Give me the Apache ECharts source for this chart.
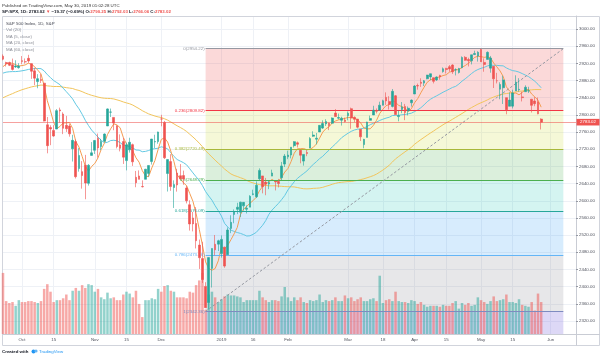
<!DOCTYPE html>
<html><head><meta charset="utf-8">
<script src="https://cdn.jsdelivr.net/npm/echarts@6/dist/echarts.min.js"></script>
<style>html,body{margin:0;padding:0;background:#fff}#c{width:602px;height:359px}</style>
</head><body><div id="c"></div>
<script>
const dates = [
'2018-09-21','2018-09-24','2018-09-25','2018-09-26','2018-09-27','2018-09-28',
'2018-10-01','2018-10-02','2018-10-03','2018-10-04','2018-10-05','2018-10-08','2018-10-09','2018-10-10','2018-10-11','2018-10-12','2018-10-15','2018-10-16','2018-10-17','2018-10-18','2018-10-19','2018-10-22','2018-10-23','2018-10-24','2018-10-25','2018-10-26','2018-10-29','2018-10-30','2018-10-31',
'2018-11-01','2018-11-02','2018-11-05','2018-11-06','2018-11-07','2018-11-08','2018-11-09','2018-11-12','2018-11-13','2018-11-14','2018-11-15','2018-11-16','2018-11-19','2018-11-20','2018-11-21','2018-11-23','2018-11-26','2018-11-27','2018-11-28','2018-11-29','2018-11-30',
'2018-12-03','2018-12-04','2018-12-06','2018-12-07','2018-12-10','2018-12-11','2018-12-12','2018-12-13','2018-12-14','2018-12-17','2018-12-18','2018-12-19','2018-12-20','2018-12-21','2018-12-24','2018-12-26','2018-12-27','2018-12-28','2018-12-31',
'2019-01-02','2019-01-03','2019-01-04','2019-01-07','2019-01-08','2019-01-09','2019-01-10','2019-01-11','2019-01-14','2019-01-15','2019-01-16','2019-01-17','2019-01-18','2019-01-22','2019-01-23','2019-01-24','2019-01-25','2019-01-28','2019-01-29','2019-01-30','2019-01-31',
'2019-02-01','2019-02-04','2019-02-05','2019-02-06','2019-02-07','2019-02-08','2019-02-11','2019-02-12','2019-02-13','2019-02-14','2019-02-15','2019-02-19','2019-02-20','2019-02-21','2019-02-22','2019-02-25','2019-02-26','2019-02-27','2019-02-28',
'2019-03-01','2019-03-04','2019-03-05','2019-03-06','2019-03-07','2019-03-08','2019-03-11','2019-03-12','2019-03-13','2019-03-14','2019-03-15','2019-03-18','2019-03-19','2019-03-20','2019-03-21','2019-03-22','2019-03-25','2019-03-26','2019-03-27','2019-03-28','2019-03-29',
'2019-04-01','2019-04-02','2019-04-03','2019-04-04','2019-04-05','2019-04-08','2019-04-09','2019-04-10','2019-04-11','2019-04-12','2019-04-15','2019-04-16','2019-04-17','2019-04-18','2019-04-22','2019-04-23','2019-04-24','2019-04-25','2019-04-26','2019-04-29','2019-04-30',
'2019-05-01','2019-05-02','2019-05-03','2019-05-06','2019-05-07','2019-05-08','2019-05-09','2019-05-10','2019-05-13','2019-05-14','2019-05-15','2019-05-16','2019-05-17','2019-05-20','2019-05-21','2019-05-22','2019-05-23','2019-05-24','2019-05-28','2019-05-29'
];
const futureDates = ['2019-05-30','2019-05-31','2019-06-03','2019-06-04','2019-06-05','2019-06-06','2019-06-07','2019-06-10','2019-06-11','2019-06-12','2019-06-13'];

const open = [
2936.76,2921.83,2921.75,2916.98,2911.65,2910.03,
2926.29,2923.80,2931.69,2919.35,2902.54,2877.53,2882.51,2873.90,2776.87,2770.54,2763.83,2767.05,2811.67,2802.00,2775.66,2773.94,2721.03,2737.87,2674.88,2667.86,2682.65,2640.68,2705.60,
2717.58,2745.45,2726.37,2738.40,2774.13,2806.38,2794.10,2773.93,2730.05,2737.90,2693.52,2718.54,2730.74,2654.60,2657.74,2633.36,2649.97,2663.75,2691.45,2736.97,2737.76,
2790.50,2782.43,2663.51,2691.26,2630.86,2664.44,2658.23,2658.70,2629.68,2590.75,2559.90,2547.05,2496.77,2465.38,2400.56,2363.12,2442.50,2498.77,2498.94,
2476.96,2491.92,2474.33,2535.61,2568.11,2580.00,2573.51,2588.11,2580.31,2585.10,2614.75,2609.28,2651.27,2657.88,2643.48,2638.84,2657.44,2644.89,2644.89,2653.62,2685.49,
2702.32,2706.49,2728.34,2735.05,2717.53,2692.36,2712.40,2722.61,2750.30,2743.50,2760.24,2769.28,2779.05,2780.67,2780.67,2804.35,2792.36,2787.50,2788.11,
2798.22,2814.37,2794.41,2790.27,2766.53,2730.79,2747.61,2787.34,2799.78,2810.38,2810.79,2822.61,2840.76,2831.34,2819.72,2844.52,2796.01,2812.66,2819.72,2809.40,2828.27,
2848.63,2868.24,2876.09,2873.99,2884.16,2888.46,2886.58,2881.37,2891.92,2900.86,2908.32,2912.26,2916.04,2904.81,2898.78,2909.99,2934.00,2928.99,2925.81,2940.58,2937.14,
2952.33,2922.16,2929.21,2908.89,2913.03,2879.61,2859.84,2863.10,2840.19,2820.12,2820.38,2855.80,2858.60,2841.94,2854.02,2856.06,2836.70,2832.41,2830.03,2790.25
];
const high = [
2940.91,2923.79,2923.95,2931.15,2927.22,2920.53,
2937.06,2931.42,2939.86,2919.78,2909.64,2894.83,2894.83,2874.02,2795.14,2775.77,2775.99,2813.46,2816.94,2806.04,2797.77,2778.94,2753.59,2742.59,2722.70,2692.38,2706.85,2685.43,2736.69,
2741.67,2756.55,2744.27,2756.82,2815.15,2814.75,2794.10,2775.99,2754.60,2746.80,2735.38,2746.75,2733.16,2669.44,2670.73,2647.55,2674.35,2682.53,2744.00,2753.75,2760.88,
2800.18,2785.93,2696.15,2708.54,2647.51,2674.35,2685.44,2670.19,2635.07,2601.13,2573.99,2585.29,2509.63,2504.41,2410.34,2467.76,2489.10,2520.27,2509.24,
2519.49,2493.14,2538.07,2566.16,2579.82,2595.32,2597.82,2596.27,2589.32,2613.08,2625.76,2645.06,2675.47,2657.88,2653.19,2647.20,2672.38,2644.89,2650.93,2690.44,2708.95,
2716.66,2724.99,2738.98,2738.08,2719.32,2708.07,2718.05,2748.19,2761.85,2757.90,2775.66,2787.33,2789.88,2781.58,2794.20,2813.49,2803.12,2795.76,2793.73,
2808.02,2816.88,2796.44,2790.27,2767.25,2744.13,2784.00,2798.32,2821.24,2815.00,2830.73,2835.41,2852.42,2843.54,2860.31,2846.16,2809.79,2829.87,2825.56,2819.71,2836.03,
2869.40,2872.90,2885.25,2881.28,2893.24,2895.95,2886.88,2889.71,2893.42,2910.54,2909.60,2916.06,2918.00,2908.40,2909.51,2936.31,2936.83,2933.10,2939.88,2949.52,2948.22,
2954.13,2931.68,2947.85,2937.32,2913.03,2897.96,2875.97,2891.31,2840.19,2852.54,2858.68,2892.15,2885.48,2853.86,2868.88,2865.47,2836.70,2841.36,2840.51,2792.03
];
const low = [
2927.11,2912.63,2913.70,2903.28,2909.27,2907.50,
2917.91,2919.37,2921.36,2883.92,2869.29,2862.08,2874.27,2784.86,2710.51,2729.44,2749.03,2766.91,2781.81,2755.18,2760.27,2749.22,2691.43,2651.89,2667.84,2628.16,2603.54,2635.34,2705.60,
2708.85,2700.44,2717.94,2737.08,2774.13,2794.99,2764.24,2722.00,2714.98,2685.75,2670.75,2712.16,2681.09,2631.52,2649.82,2631.09,2649.97,2655.89,2684.38,2722.94,2732.76,
2773.38,2697.18,2621.53,2623.14,2583.23,2621.30,2650.26,2637.27,2593.84,2530.54,2528.71,2488.96,2441.18,2408.55,2351.10,2346.58,2397.94,2472.89,2482.82,
2467.47,2443.96,2474.33,2524.56,2547.56,2568.89,2562.02,2577.40,2570.41,2585.10,2612.68,2606.36,2647.58,2617.27,2612.86,2627.01,2657.33,2624.06,2631.05,2648.34,2678.65,
2696.88,2698.75,2724.03,2724.15,2687.26,2681.83,2703.79,2722.61,2748.63,2731.23,2760.24,2767.29,2774.06,2764.55,2779.11,2794.99,2789.47,2775.13,2782.51,
2787.38,2767.66,2782.97,2768.69,2739.09,2722.27,2747.61,2786.73,2799.78,2803.46,2810.79,2821.99,2823.27,2812.43,2817.38,2800.47,2785.02,2803.99,2787.72,2798.77,2819.23,
2848.63,2858.75,2865.17,2867.14,2882.99,2880.78,2873.33,2879.13,2881.99,2898.37,2896.48,2900.71,2895.45,2891.90,2896.35,2908.53,2926.05,2912.84,2917.56,2939.35,2924.11,
2923.36,2900.50,2929.21,2898.21,2862.60,2873.28,2836.40,2825.39,2801.43,2820.12,2815.08,2855.80,2854.23,2831.29,2854.02,2851.11,2805.49,2820.19,2801.58,2766.06
];
const close = [
2929.67,2919.37,2915.56,2905.97,2914.00,2913.98,
2924.59,2923.43,2925.51,2901.61,2885.57,2884.43,2880.34,2785.68,2728.37,2767.13,2750.79,2809.92,2809.21,2768.78,2767.78,2755.88,2740.69,2656.10,2705.57,2658.69,2641.25,2682.63,2711.74,
2740.37,2723.06,2738.31,2755.45,2813.89,2806.83,2781.01,2726.22,2722.18,2701.58,2730.20,2736.27,2690.73,2641.89,2649.93,2632.56,2673.45,2682.17,2743.79,2737.80,2760.17,
2790.37,2700.06,2695.95,2633.08,2637.72,2636.78,2651.07,2650.54,2599.95,2545.94,2546.16,2506.96,2467.42,2416.62,2351.10,2467.70,2488.83,2485.74,2506.85,
2510.03,2447.89,2531.94,2549.69,2574.41,2584.96,2596.64,2596.26,2582.61,2610.30,2616.10,2635.96,2670.71,2632.90,2638.70,2642.33,2664.76,2643.85,2640.00,2681.05,2704.10,
2706.53,2724.87,2737.70,2731.61,2706.05,2707.88,2709.80,2744.73,2753.03,2745.73,2775.60,2779.76,2784.70,2774.88,2792.67,2796.11,2793.90,2792.38,2784.49,
2803.69,2792.81,2789.65,2771.45,2748.93,2743.07,2783.30,2791.52,2810.92,2808.48,2822.48,2832.94,2832.57,2824.23,2854.88,2800.71,2798.36,2818.46,2805.37,2815.44,2834.40,
2867.19,2867.24,2873.40,2879.39,2892.74,2895.77,2878.20,2888.21,2888.32,2907.41,2905.58,2907.06,2900.45,2905.03,2907.97,2933.68,2927.25,2926.17,2939.88,2943.03,2945.83,
2923.73,2917.52,2945.64,2932.47,2884.05,2879.42,2870.72,2881.40,2811.87,2834.41,2850.96,2876.32,2859.53,2840.23,2864.36,2856.27,2822.24,2826.06,2802.39,2783.02
];
const volume = [
6.5,3.5,3.3,3.4,3.0,3.6,
3.4,3.4,3.5,3.5,3.4,3.3,3.5,4.8,5.3,4.5,3.4,3.6,3.6,3.8,4.2,3.6,4.6,4.9,4.6,5.2,4.9,5.3,5.2,
4.5,4.8,3.9,3.7,4.4,3.8,3.9,3.6,3.6,4.2,4.5,4.3,3.9,4.6,3.2,1.8,3.6,3.6,3.8,3.7,4.8,
4.5,5.1,5.2,4.6,4.5,3.9,3.9,3.9,3.8,4.5,4.4,5.2,5.7,6.5,2.6,4.2,4.5,3.9,3.4,
3.7,4.0,4.2,4.1,4.1,4.0,3.9,3.4,3.6,3.6,3.6,3.6,4.6,3.9,3.6,3.4,3.6,3.6,3.5,4.0,5.0,
3.9,3.5,3.9,3.6,3.9,3.4,3.3,3.6,3.5,3.6,4.2,3.4,3.6,3.5,3.6,3.9,3.5,3.5,4.1,
3.8,3.9,3.5,3.7,3.9,3.5,3.5,3.7,3.8,3.5,6.2,3.3,3.6,3.7,3.5,4.5,3.5,3.4,3.4,3.3,3.6,
3.5,3.2,3.4,3.1,2.9,3.0,3.0,3.0,2.9,3.1,3.0,3.0,3.3,3.5,2.7,3.3,3.1,3.3,3.0,3.1,3.9,
3.6,3.4,3.2,3.5,4.0,3.5,3.6,3.7,4.2,3.4,3.4,3.3,3.7,3.1,3.0,2.9,3.4,2.5,4.3,3.4
];
// closes before the visible window (needed for the moving averages)
const priorCloses = [
2699.63,2716.31,2718.37,
2726.71,2713.22,2736.61,2759.82,2784.17,2793.84,2774.02,2798.29,2801.31,2798.43,2809.55,2815.62,2804.49,2801.83,2806.98,2820.40,2846.07,2837.44,2818.82,2802.60,2816.29,
2813.36,2827.22,2840.35,2850.40,2858.45,2857.70,2853.58,2833.28,2821.93,2839.96,2818.37,2840.69,2850.13,2857.05,2862.96,2861.82,2856.98,2874.69,2896.74,2897.52,2914.04,2901.13,2901.52,
2896.72,2888.60,2878.05,2871.68,2877.13,2887.89,2888.92,2904.18,2904.98,2888.80,2904.31,2907.95,2930.75
];
const fibRatios = ['0','0.236','0.382','0.5','0.618','0.786','1'];
const fibPrices = [2954.22,2809.82,2720.49,2648.29,2576.09,2473.16,2342.36];
const fibStart = '2018-12-24', fibEnd = '2019-06-07';
const priceTicks = [2320,2360,2400,2440,2480,2520,2560,2600,2640,2680,2720,2760,2800,2840,2880,2920,2960,3000];
const tickDates = ['2018-10-01','2018-10-15','2018-11-01','2018-11-15','2018-12-03','2019-01-02','2019-01-16','2019-02-01','2019-03-01','2019-03-18','2019-04-01','2019-04-15','2019-05-01','2019-05-15','2019-06-03'];
const tickLabels = ['Oct','15','Nov','15','Dec','2019','16','Feb','Mar','18','Apr','15','May','15','Jun'];
const lastClose = 2783.02;

const Y_MIN = 2289.7, Y_MAX = 3030.3;
const UP = '#26a69a', DOWN = '#ef5350';
const FONT = 'Liberation Sans';
const allDates = dates.concat(futureDates);
const tickMap = {};
tickDates.forEach((d, i) => tickMap[d] = tickLabels[i]);

function ma(n) {
  const all = priorCloses.concat(close), P = priorCloses.length;
  return close.map((_, i) => { let s = 0; for (let k = 0; k < n; k++) s += all[P + i - k]; return +(s / n).toFixed(2); });
}
const candle = close.map((c, i) => [open[i], c, low[i], high[i]]);
const volData = volume.map((v, i) => ({ value: v, itemStyle: { color: close[i] >= open[i] ? 'rgba(38,166,154,0.5)' : 'rgba(239,83,80,0.5)' } }));

const zoneColors = ['rgba(239,83,80,0.22)','rgba(205,220,57,0.2)','rgba(76,175,80,0.2)','rgba(0,188,170,0.17)','rgba(33,150,243,0.18)','rgba(120,123,134,0.18)'];
const lineColors = ['#9598a1','#f23645','#a8b83a','#4caf50','#26a69a','#64b5f6','#7e8bc0'];
const areas = [];
for (let i = 0; i < fibPrices.length - 1; i++) {
  areas.push([{ xAxis: fibStart, yAxis: fibPrices[i], itemStyle: { color: zoneColors[i] } }, { xAxis: fibEnd, yAxis: fibPrices[i + 1] }]);
}
areas.push([{ xAxis: fibStart, yAxis: fibPrices[6], itemStyle: { color: 'rgba(120,100,220,0.25)' } }, { xAxis: fibEnd, yAxis: Y_MIN }]);

const lines = fibPrices.map((p, i) => [
  { coord: [fibStart, p], lineStyle: { color: lineColors[i], width: 1, type: 'solid' },
    label: { show: true, position: 'start', distance: 1, formatter: fibRatios[i] + '(' + p.toFixed(2) + ')', color: lineColors[i], fontSize: 4.4, fontFamily: FONT } },
  { coord: [fibEnd, p] }
]);
lines.push([{ coord: [fibStart, fibPrices[6]], lineStyle: { color: '#9598a1', width: 1, type: [2.5, 2] }, label: { show: false } }, { coord: [fibEnd, fibPrices[0]] }]);
lines.push({ yAxis: lastClose, lineStyle: { color: 'rgba(239,83,80,0.55)', width: 1, type: 'solid' }, label: { show: false } });

const chart = echarts.init(document.getElementById('c'), null, { renderer: 'canvas' });
chart.setOption({
  animation: false,
  backgroundColor: '#fff',
  grid: [
    { left: 3, right: 26, top: 16, bottom: 25 },
    { left: 3, right: 26, top: 240, bottom: 25 }
  ],
  xAxis: [
    { type: 'category', gridIndex: 0, data: allDates, boundaryGap: false,
      axisLine: { show: true, lineStyle: { color: '#c9ccd4', width: 1 } },
      axisTick: { show: false },
      axisLabel: { interval: (i, v) => tickMap[v] !== undefined, formatter: v => tickMap[v] || '', color: '#50535e', fontSize: 4.4, fontFamily: FONT, margin: 4 },
      splitLine: { show: true, interval: (i, v) => tickMap[v] !== undefined, lineStyle: { color: '#eef1f6', width: 1 } } },
    { type: 'category', gridIndex: 1, data: allDates, boundaryGap: false, show: false }
  ],
  yAxis: [
    { type: 'value', gridIndex: 0, position: 'right', min: Y_MIN, max: Y_MAX, scale: true,
      axisLine: { show: true, lineStyle: { color: '#c9ccd4', width: 1 } },
      axisTick: { show: true, customValues: priceTicks, length: 2, lineStyle: { color: '#9598a1' } },
      axisLabel: { customValues: priceTicks, formatter: v => v.toFixed(2), color: '#50535e', fontSize: 4.4, fontFamily: FONT, margin: 3 },
      splitLine: { show: true, lineStyle: { color: '#eef1f6', width: 1 } } },
    { type: 'value', gridIndex: 1, min: 0, max: 10, show: false, splitLine: { show: false } }
  ],
  series: [
    { name: 'zones', type: 'line', xAxisIndex: 0, yAxisIndex: 0, data: close, symbol: 'none', lineStyle: { opacity: 0 }, silent: true, z: 1,
      markArea: { silent: true, data: areas } },
    { name: 'Vol', type: 'bar', xAxisIndex: 1, yAxisIndex: 1, data: volData, barWidth: 2.5, z: 2, silent: true },
    { name: 'levels', type: 'line', xAxisIndex: 0, yAxisIndex: 0, data: close, symbol: 'none', lineStyle: { opacity: 0 }, silent: true, z: 3,
      markLine: { silent: true, symbol: ['none', 'none'], animation: false, data: lines } },
    { name: 'MA60', type: 'line', data: ma(60), symbol: 'none', lineStyle: { color: '#f2c55c', width: 1 }, z: 4, silent: true },
    { name: 'MA20', type: 'line', data: ma(20), symbol: 'none', lineStyle: { color: '#63c9e3', width: 1 }, z: 4, silent: true },
    { name: 'MA5', type: 'line', data: ma(5), symbol: 'none', lineStyle: { color: '#f59d52', width: 1 }, z: 4, silent: true },
    { name: 'SPX', type: 'candlestick', data: candle, barWidth: 2.2, z: 5, silent: true,
      itemStyle: { color: UP, color0: DOWN, borderColor: UP, borderColor0: DOWN, borderWidth: 0.6 } }
  ]
});

const yTag = chart.convertToPixel({ yAxisIndex: 0 }, lastClose);
const t = (text, x, y, fill, size, weight) => ({ type: 'text', x, y, silent: true,
  style: { text, fill, fontSize: size || 4.4, fontFamily: FONT, fontWeight: weight || 'normal', verticalAlign: 'middle' } });
chart.setOption({
  graphic: [
    { type: 'rect', shape: { x: 2.5, y: 16.5, width: 597, height: 329 }, style: { fill: 'none', stroke: '#d1d4dc', lineWidth: 1 }, silent: true },
    { type: 'line', shape: { x1: 576.5, y1: 16, x2: 576.5, y2: 345.5 }, style: { stroke: '#c9ccd4', lineWidth: 1 }, silent: true },
    { type: 'line', shape: { x1: 576, y1: 334.5, x2: 600, y2: 334.5 }, style: { stroke: '#c9ccd4', lineWidth: 1 }, silent: true },
    { type: 'rect', shape: { x: 576.5, y: yTag - 3.3, width: 23, height: 6.6 }, style: { fill: '#ef5350' }, silent: true, z: 10 },
    { type: 'text', x: 588, y: yTag, silent: true, z: 11, style: { text: lastClose.toFixed(2), fill: '#fff', fontSize: 4.4, fontFamily: FONT, align: 'center', verticalAlign: 'middle' } },
    t('Published on TradingView.com, May 30, 2019 01:02:28 UTC', 2, 5.5, '#333', 4.4),
    { type: 'text', x: 2, y: 11.5, silent: true, style: {
      text: '{b|SP:SPX, 1D: 2783.02 }{r|▼}{b| −19.37 (−0.69%) O:}{r|2790.25}{b| H:}{r|2792.03}{b| L:}{r|2766.06}{b| C:}{r|2783.02}',
      verticalAlign: 'middle',
      rich: { b: { fill: '#131722', fontSize: 4.4, fontFamily: FONT, fontWeight: 'bold' }, r: { fill: '#ef5350', fontSize: 4.4, fontFamily: FONT, fontWeight: 'bold' } } } },
    t('S&P 500 Index, 1D, S&P', 6, 23.5, '#434651', 4.4),
    t('Vol (20)', 6, 30, '#8a8d96', 4.4),
    t('MA (5, close)', 6, 36.5, '#8a8d96', 4.4),
    t('MA (20, close)', 6, 43, '#8a8d96', 4.4),
    t('MA (60, close)', 6, 49.5, '#8a8d96', 4.4),
    t('Created with', 2, 351.5, '#131722', 4.4, 'bold'),
    { type: 'circle', shape: { cx: 33.5, cy: 351.5, r: 2 }, style: { fill: '#2196f3' }, silent: true },
    { type: 'circle', shape: { cx: 36, cy: 351, r: 1.6 }, style: { fill: '#64b5f6' }, silent: true },
    t('TradingView', 39, 351.5, '#2196f3', 4.4)
  ]
});
</script></body></html>
